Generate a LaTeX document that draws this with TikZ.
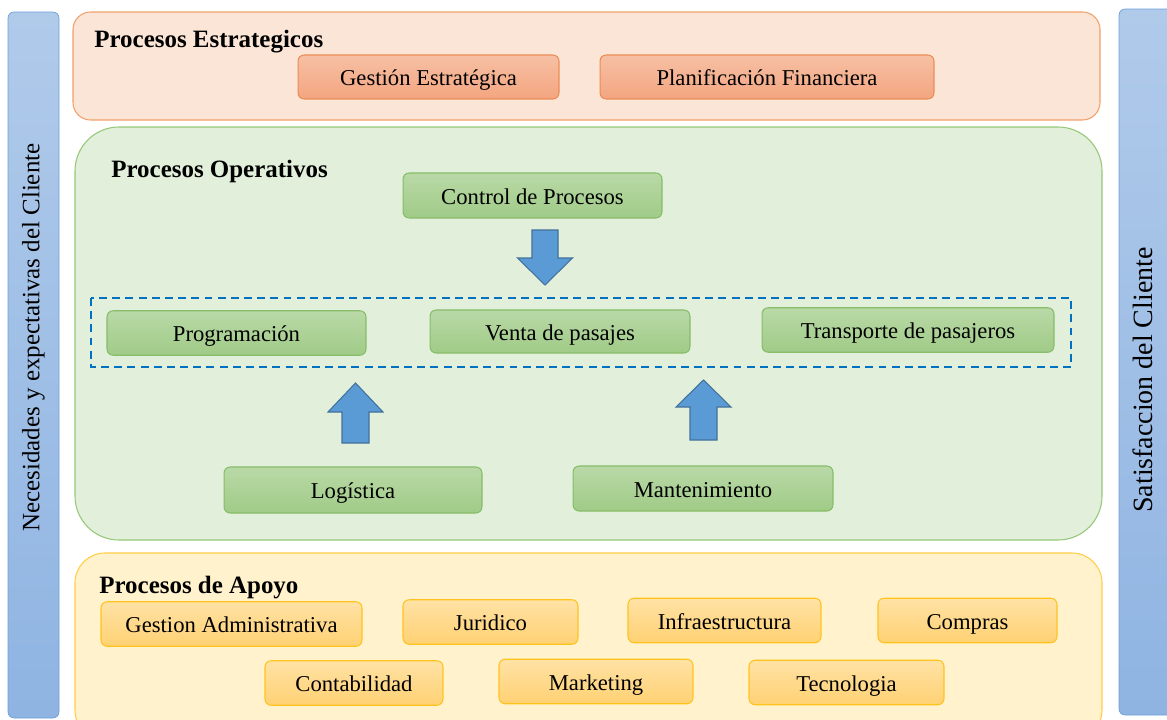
\documentclass[tikz,border=0pt]{standalone}
\usepackage{fontspec}
\setmainfont{Liberation Serif}
\usetikzlibrary{positioning, calc}
\definecolor{Estrat}{RGB}{251, 229, 214}
\definecolor{EstratLine}{RGB}{241, 160, 105}
\definecolor{EstratTop}{RGB}{246, 192, 164}
\definecolor{EstratBot}{RGB}{244, 165, 128}
\definecolor{EstratBox}{RGB}{236, 140, 85}
\definecolor{Oper}{RGB}{226, 239, 218}
\definecolor{OperLine}{RGB}{150, 200, 120}
\definecolor{OperTop}{RGB}{185, 217, 167}
\definecolor{OperBot}{RGB}{160, 203, 135}
\definecolor{OperBox}{RGB}{135, 188, 105}
\definecolor{Apoyo}{RGB}{255, 242, 204}
\definecolor{ApoyoLine}{RGB}{255, 205, 70}
\definecolor{ApoyoTop}{RGB}{255, 226, 165}
\definecolor{ApoyoBot}{RGB}{255, 209, 115}
\definecolor{ApoyoBox}{RGB}{255, 195, 30}
\definecolor{Flecha}{RGB}{91, 155, 213}
\definecolor{FlechaLine}{RGB}{65, 113, 156}
\definecolor{BarTop}{RGB}{176, 202, 234}
\definecolor{BarBot}{RGB}{143, 180, 226}
\definecolor{BarLine}{RGB}{110, 160, 215}
\definecolor{Dashes}{RGB}{0, 112, 192}

\begin{document}
\begin{tikzpicture}[
        x=0.02cm, y=-0.02cm,
        every node/.style={text centered, font=\fontsize{12.9}{15}\selectfont},
        procbox/.style={rectangle, rounded corners=3.5pt, line width=0.6pt, text height=10pt, text depth=0pt},
        estratbox/.style={procbox, draw=EstratBox, top color=EstratTop, bottom color=EstratBot, minimum height=0.88cm},
        operbox/.style={procbox, draw=OperBox, top color=OperTop, bottom color=OperBot, minimum height=0.89cm},
        apoyobox/.style={procbox, draw=ApoyoBox, top color=ApoyoTop, bottom color=ApoyoBot, minimum height=0.89cm},
        title/.style={anchor=base west, inner sep=0, font=\fontsize{14.2}{16}\selectfont\bfseries},
        flecha/.style={fill=Flecha, draw=FlechaLine, line width=0.6pt}
    ]
        \clip (0,0) rectangle (1167,720);
        \useasboundingbox (0,0) rectangle (1167,720);

        % Side bars
        \draw[rounded corners=3.5pt, draw=BarLine, top color=BarTop, bottom color=BarBot] (8,12) rectangle (59,718);
        \draw[rounded corners=3.5pt, draw=BarLine, top color=BarTop, bottom color=BarBot] (1119,9) rectangle (1180,715);
        \node[rotate=90, font=\fontsize{14.2}{16}\selectfont] (needs) at (33.5,337.5) {Necesidades y expectativas del Cliente};
        \node[rotate=90, font=\fontsize{15.9}{18}\selectfont] (satis) at (1143,380) {Satisfaccion del Cliente};

        % Procesos Estrategicos
        \draw[rounded corners=10pt, fill=Estrat, draw=EstratLine, line width=0.6pt] (73,12) rectangle (1100,120);
        \node[title] (estrat) at (94,47.5) {Procesos Estrategicos};
        \node[estratbox, minimum width=5.22cm] (gestion) at (428.5,77) {Gestión Estratégica};
        \node[estratbox, minimum width=6.68cm] (planif) at (767,77) {Planificación Financiera};

        % Procesos Operativos
        \draw[rounded corners=25pt, fill=Oper, draw=OperLine, line width=0.6pt] (75,127) rectangle (1102,540);
        \node[title] (oper) at (111,177) {Procesos Operativos};
        \node[operbox, minimum width=5.18cm, minimum height=0.9cm] (control) at (532.5,195.5) {Control de Procesos};
        \draw[Dashes, line width=1.4pt, dash pattern=on 4.5pt off 3pt] (91,298) rectangle (1071,367);
        \node[operbox, minimum width=5.18cm] (program) at (236.5,333) {Programación};
        \node[operbox, minimum width=5.2cm, minimum height=0.86cm] (venta) at (560,331.5) {Venta de pasajes};
        \node[operbox, minimum width=5.84cm] (transp) at (908,330) {Transporte de pasajeros};
        \node[operbox, minimum width=5.16cm, minimum height=0.92cm] (logist) at (353,490) {Logística};
        \node[operbox, minimum width=5.2cm, minimum height=0.9cm] (manten) at (703,488.5) {Mantenimiento};

        % Arrows
        \draw[flecha] (532,230) -- (558,230) -- (558,258) -- (572.5,258) -- (545,285) -- (517.5,258) -- (532,258) -- cycle;
        \draw[flecha] (342,443) -- (369,443) -- (369,412) -- (383,412) -- (355.5,383) -- (328,412) -- (342,412) -- cycle;
        \draw[flecha] (690,440) -- (717,440) -- (717,407) -- (731,407) -- (703.5,380) -- (676,407) -- (690,407) -- cycle;

        % Procesos de Apoyo
        \draw[rounded corners=17pt, fill=Apoyo, draw=ApoyoLine, line width=0.6pt] (75,553) rectangle (1102,740);
        \node[title] (apoyo) at (99,593) {Procesos de Apoyo};
        \node[apoyobox, minimum width=5.22cm] (gadmin) at (231.5,624) {Gestion Administrativa};
        \node[apoyobox, minimum width=3.5cm] (jurid) at (490.5,622) {Juridico};
        \node[apoyobox, minimum width=3.86cm] (infra) at (724.5,620.5) {Infraestructura};
        \node[apoyobox, minimum width=3.58cm] (compras) at (967.5,620.5) {Compras};
        \node[apoyobox, minimum width=3.56cm] (conta) at (354,683) {Contabilidad};
        \node[apoyobox, minimum width=3.88cm] (market) at (596,681.5) {Marketing};
        \node[apoyobox, minimum width=3.9cm] (tecno) at (846.5,682.5) {Tecnologia};
    \end{tikzpicture}
\end{document}
